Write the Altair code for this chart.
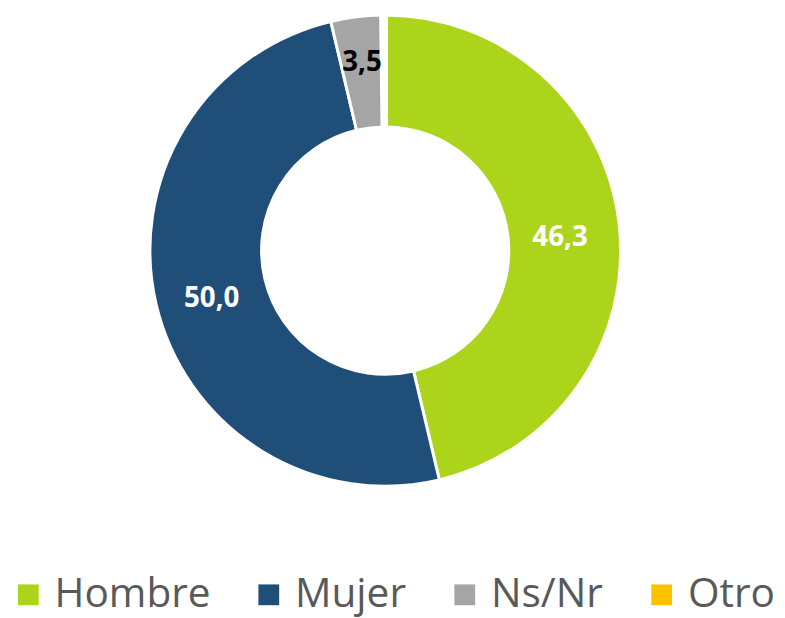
import altair as alt
import pandas as pd

categories = ["Hombre", "Mujer", "Ns/Nr", "Otro"]
values = [46.3, 50.0, 3.5, 0.2]
labels = ["46,3", "50,0", "3,5", ""]
colors = ["#acd41b", "#1f4e79", "#a5a5a5", "#ffc000"]

df = pd.DataFrame({
    "cat": categories,
    "val": values,
    "label": labels,
    "idx": list(range(len(categories))),
})

CX, CY = 381, 242

base = alt.Chart(df).encode(
    theta=alt.Theta("val:Q", stack=True),
    order=alt.Order("idx:Q"),
)

arcs = base.mark_arc(
    outerRadius=238, innerRadius=125, stroke="white"
).encode(
    x=alt.value(CX), y=alt.value(CY),
    color=alt.Color(
        "cat:N",
        scale=alt.Scale(domain=categories, range=colors),
        legend=alt.Legend(
            title=None, orient="none", direction="horizontal",
            legendX=0, legendY=569,
            symbolType="square", symbolSize=441, symbolStrokeWidth=0,
            labelFontSize=41, labelFont="Open Sans", labelColor="#595959",
            labelOffset=6, columnPadding=38, padding=0, labelLimit=400,
        ),
    ),
    strokeWidth=alt.condition(alt.datum.cat == "Otro", alt.value(6), alt.value(3)),
)

text_main = base.mark_text(
    radius=179, font="Open Sans", fontWeight="bold", fontSize=28,
    baseline="middle", align="center",
).encode(
    x=alt.value(CX - 1), y=alt.value(CY + 8),
    text="label:N",
    color=alt.value("#ffffff"),
    opacity=alt.condition(alt.datum.cat == "Ns/Nr", alt.value(0), alt.value(1)),
)

text_small = base.mark_text(
    radius=191, font="Open Sans", fontWeight="bold", fontSize=28,
    baseline="middle", align="center",
).encode(
    x=alt.value(CX), y=alt.value(CY),
    text="label:N",
    color=alt.value("#000000"),
    opacity=alt.condition(alt.datum.cat == "Ns/Nr", alt.value(1), alt.value(0)),
)

chart = alt.layer(arcs, text_main, text_small).properties(
    width=777, height=610, padding=0,
    autosize=alt.AutoSizeParams(type="none"),
).configure_view(stroke=None)

chart.save("out.html", embed_options={"renderer": "svg", "actions": False})
